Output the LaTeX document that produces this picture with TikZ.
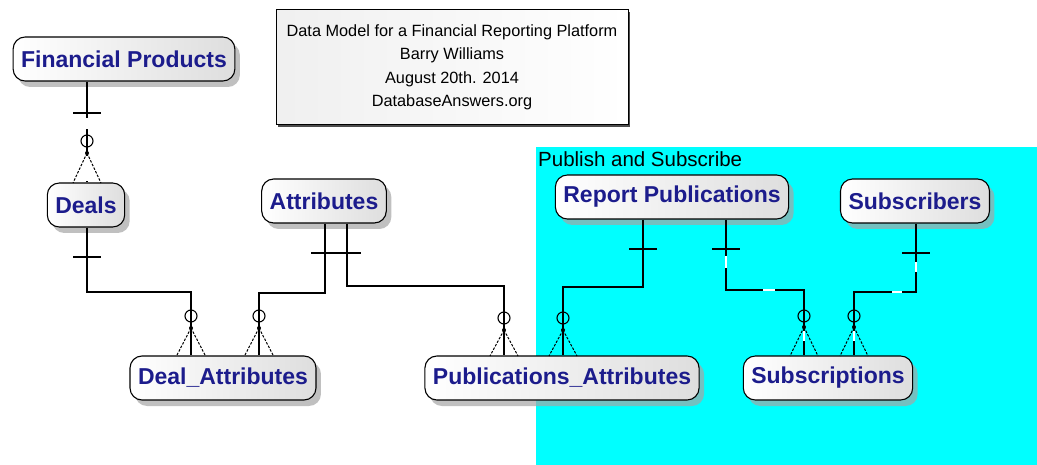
\documentclass[tikz,border=0pt]{standalone}
\usepackage{fontspec}
\setmainfont{Liberation Sans}
\usetikzlibrary{calc,shadows}
\definecolor{entblue}{RGB}{28,28,140}
\definecolor{cyanbg}{RGB}{0,255,255}
\newcommand\tickmark[2]{\draw[rel] (#1-14,#2) -- (#1+14,#2);}
\newcommand\crowfoot[4]{%
  \draw[foot] (#1,#3) -- (#1-14,#4);
  \draw[foot] (#1,#3) -- (#1+14,#4);
  \draw[line width=1.1pt] (#1,#2) circle[radius=6];
  \fill (#1,#3) circle[radius=2];}
\newcommand\wgap[4]{\draw[gapline] (#1,#2) -- (#3,#4);}
\begin{document}
\begin{tikzpicture}[x=1pt,y=-1pt,
  entity/.style={draw=black, line width=1.1pt, rounded corners=12pt,
    left color=white, right color=black!13,
    minimum height=44pt, inner xsep=8pt, inner ysep=0pt,
    font=\bfseries\fontsize{23}{26}\selectfont, text=entblue,
    drop shadow={shadow xshift=5pt, shadow yshift=-6pt, fill=black!35, opacity=0.7}},
  titlebox/.style={draw=black, line width=1pt, left color=black!6, right color=white,
    align=center, font=\fontsize{16.3}{23.5}\selectfont, inner sep=0pt,
    drop shadow={shadow xshift=2pt, shadow yshift=-2pt, fill=black!70, opacity=1}},
  rel/.style={line width=1.3pt},
  foot/.style={line width=1pt, dash pattern=on 2.5pt off 1.5pt},
  gapline/.style={white, line width=2pt}]
\useasboundingbox (0,0) rectangle (1037,465);
\fill[white] (0,0) rectangle (1037,465);
\fill[cyanbg] (536,147) rectangle (1037,465);
\node[anchor=base west, inner sep=0pt, font=\fontsize{20.5}{24}\selectfont] (pslabel) at (538,167) {Publish and Subscribe};

\node[titlebox, minimum width=352pt, minimum height=115pt] (title) at (452,67.5)
  {Data Model for a Financial Reporting Platform\\Barry Williams\\August 20th. 2014\\DatabaseAnswers.org};

% entities
\node[entity] (fp) at (124,59) {Financial Products};
\node[entity] (deals) at (86,205) {Deals};
\node[entity] (attr) at (324,201) {Attributes};
\node[entity] (dealattr) at (223,378) {Deal\_Attributes};
\node[entity] (pubattr) at (562,378) {Publications\_Attributes};
\node[entity] (reppub) at (672,197) {Report Publications};
\node[entity] (subscr) at (915,201) {Subscribers};
\node[entity] (subs) at (828,378) {Subscriptions};

% helper coordinates
\coordinate (x87) at (87,0);
\coordinate (x325) at (325,0);
\coordinate (x347) at (347,0);
\coordinate (x643) at (643,0);
\coordinate (x726) at (726,0);
\coordinate (x916) at (916,0);
\coordinate (k2) at (191,292);
\coordinate (k3) at (259,293);
\coordinate (k4) at (504,286);
\coordinate (k5) at (563,287);
\coordinate (k6) at (804,290);
\coordinate (k7) at (854,292);

% 1 Financial Products -> Deals
\draw[rel] (fp.south -| x87) -- (deals.north -| x87);
\wgap{87}{118}{87}{129}
\wgap{87}{156}{87}{181}
\tickmark{87}{113}
\crowfoot{87}{141}{153}{183}

% 2 Deals -> Deal_Attributes
\draw[rel] (deals.south -| x87) |- (k2) -- (k2 |- dealattr.north);
\tickmark{87}{257}
\crowfoot{191}{316}{328}{355}

% 3 Attributes -> Deal_Attributes
\draw[rel] (attr.south -| x325) |- (k3) -- (k3 |- dealattr.north);
\tickmark{325}{253}
\crowfoot{259}{316}{328}{355}

% 4 Attributes -> Publications_Attributes
\draw[rel] (attr.south -| x347) |- (k4) -- (k4 |- pubattr.north);
\tickmark{347}{253}
\crowfoot{504}{318}{330}{356}

% 5 Report Publications -> Publications_Attributes
\draw[rel] (reppub.south -| x643) |- (k5) -- (k5 |- pubattr.north);
\tickmark{643}{249}
\crowfoot{563}{318}{330}{356}

% 6 Report Publications -> Subscriptions
\draw[rel] (reppub.south -| x726) |- (k6) -- (k6 |- subs.north);
\wgap{726}{256}{726}{268}
\wgap{763}{290}{775}{290}
\wgap{804}{331}{804}{341}
\tickmark{726}{249}
\crowfoot{804}{316}{327}{356}

% 7 Subscribers -> Subscriptions
\draw[rel] (subscr.south -| x916) |- (k7) -- (k7 |- subs.north);
\wgap{916}{262}{916}{272}
\wgap{892}{292}{902}{292}
\wgap{854}{331}{854}{341}
\tickmark{916}{253}
\crowfoot{854}{316}{327}{356}
\end{tikzpicture}
\end{document}
